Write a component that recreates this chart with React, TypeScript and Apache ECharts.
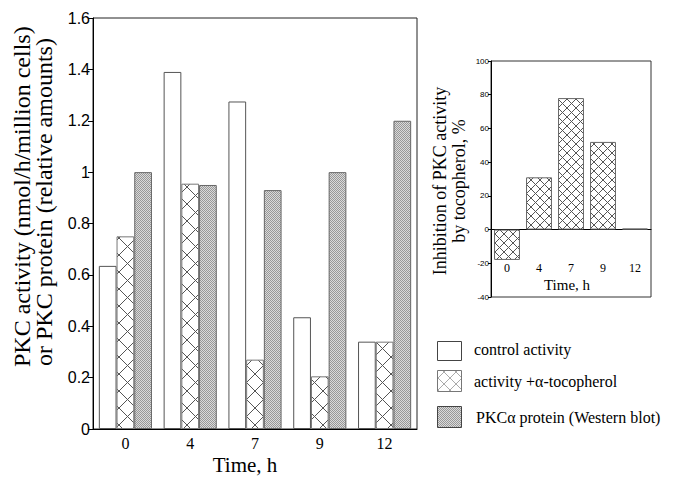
import React, { useEffect, useRef } from 'react';
import * as echarts from 'echarts';

// ---- data ----
const categories = ['0', '4', '7', '9', '12'];
const controlActivity = [0.635, 1.39, 1.275, 0.435, 0.34];
const tocopherolActivity = [0.75, 0.955, 0.27, 0.205, 0.34];
const pkcProtein = [1.0, 0.95, 0.93, 1.0, 1.2];
const inhibition = [-18, 31, 78, 52, 0.6];

const seriesNames = ['control activity', 'activity +\u03b1-tocopherol', 'PKC\u03b1 protein (Western blot)'];
const mainAxisTitle = ['PKC activity (nmol/h/million cells)', 'or PKC protein (relative amounts)'];
const insetAxisTitle = 'Inhibition of PKC activity\nby tocopherol, %';
const timeTitle = 'Time, h';

const SERIF = "'Liberation Serif', 'Times New Roman', serif";
const NARROW = "'Liberation Sans Narrow', 'Arial Narrow', 'Liberation Sans', Arial, sans-serif";
const SANS = "'Liberation Sans', Arial, sans-serif";

function hatchPattern(size: number, color: string) {
  const c = document.createElement('canvas');
  c.width = size;
  c.height = size;
  const ctx = c.getContext('2d')!;
  ctx.fillStyle = '#ffffff';
  ctx.fillRect(0, 0, size, size);
  ctx.strokeStyle = color;
  ctx.lineWidth = 1;
  ctx.beginPath();
  ctx.moveTo(-1, -1);
  ctx.lineTo(size + 1, size + 1);
  ctx.moveTo(size + 1, -1);
  ctx.lineTo(-1, size + 1);
  ctx.stroke();
  return { image: c.toDataURL(), repeat: 'repeat', imageWidth: size, imageHeight: size } as any;
}

function stipplePattern(dark: string, light: string) {
  const n = 8;
  const c = document.createElement('canvas');
  c.width = n;
  c.height = n;
  const ctx = c.getContext('2d')!;
  ctx.fillStyle = light;
  ctx.fillRect(0, 0, n, n);
  ctx.fillStyle = dark;
  for (let i = 0; i < n; i++) {
    for (let j = 0; j < n; j++) {
      if ((i + j) % 2 === 0) ctx.fillRect(i, j, 1, 1);
    }
  }
  return { image: c.toDataURL(), repeat: 'repeat', imageWidth: n, imageHeight: n } as any;
}

export default function App() {
  const ref = useRef<HTMLDivElement>(null);

  useEffect(() => {
    if (!ref.current) return;
    const chart = echarts.init(ref.current, undefined, { renderer: 'svg' });

    const hatchMain = hatchPattern(17, '#555555');
    const hatchInset = hatchPattern(9, '#555555');
    const hatchLegend = hatchPattern(12, '#aaaaaa');
    const stipple = stipplePattern('#989898', '#dadada');

    const option: any = {
      animation: false,
      backgroundColor: '#ffffff',
      grid: [
        { left: 93, top: 18, width: 324, height: 411, show: true, borderColor: '#222', borderWidth: 1, backgroundColor: 'transparent' },
        { left: 491, top: 61, width: 160, height: 236, show: true, borderColor: '#333', borderWidth: 1, backgroundColor: 'transparent' },
      ],
      xAxis: [
        {
          type: 'category',
          gridIndex: 0,
          data: categories,
          axisLine: { lineStyle: { color: '#000', width: 1 } },
          axisTick: { show: false },
          axisLabel: { color: '#000', fontFamily: SERIF, fontSize: 16, margin: 6 },
        },
        {
          type: 'category',
          gridIndex: 1,
          data: categories,
          axisLine: { onZero: true, lineStyle: { color: '#000', width: 1 } },
          axisTick: { show: false },
          axisLabel: { color: '#000', fontFamily: SERIF, fontSize: 12, margin: -35 },
        },
      ],
      yAxis: [
        {
          type: 'value',
          gridIndex: 0,
          min: 0,
          max: 1.6,
          interval: 0.2,
          splitLine: { show: false },
          axisLine: { show: true, lineStyle: { color: '#000', width: 1 } },
          axisTick: { show: true, length: 5, lineStyle: { color: '#000' } },
          axisLabel: { color: '#000', fontFamily: NARROW, fontSize: 16, margin: 3 },
        },
        {
          type: 'value',
          gridIndex: 1,
          min: -40,
          max: 100,
          interval: 20,
          splitLine: { show: false },
          axisLine: { show: true, onZero: false, lineStyle: { color: '#000', width: 1 } },
          axisTick: { show: true, length: 3, lineStyle: { color: '#000' } },
          axisLabel: { color: '#000', fontFamily: SANS, fontSize: 8, margin: 2 },
        },
      ],
      series: [
        {
          name: seriesNames[0],
          type: 'bar',
          xAxisIndex: 0,
          yAxisIndex: 0,
          data: controlActivity,
          barGap: '0%',
          barCategoryGap: '18%',
          itemStyle: { color: '#ffffff', borderColor: '#555', borderWidth: 1 },
        },
        {
          name: seriesNames[1],
          type: 'bar',
          xAxisIndex: 0,
          yAxisIndex: 0,
          data: tocopherolActivity,
          barGap: '0%',
          barCategoryGap: '18%',
          itemStyle: { color: hatchMain, borderColor: '#777', borderWidth: 1 },
        },
        {
          name: seriesNames[2],
          type: 'bar',
          xAxisIndex: 0,
          yAxisIndex: 0,
          data: pkcProtein,
          barGap: '0%',
          barCategoryGap: '18%',
          itemStyle: { color: stipple, borderColor: '#666', borderWidth: 1 },
        },
        {
          name: 'inhibition',
          type: 'bar',
          xAxisIndex: 1,
          yAxisIndex: 1,
          data: inhibition,
          barCategoryGap: '19%',
          itemStyle: { color: hatchInset, borderColor: '#666', borderWidth: 1 },
        },
      ],
      graphic: [
        {
          type: 'text',
          x: 22,
          y: 367,
          rotation: Math.PI / 2,
          style: { text: mainAxisTitle[0], font: `24px ${SERIF}`, fill: '#000', align: 'left', verticalAlign: 'middle' },
        },
        {
          type: 'text',
          x: 44,
          y: 366,
          rotation: Math.PI / 2,
          style: { text: mainAxisTitle[1], font: `24px ${SERIF}`, fill: '#000', align: 'left', verticalAlign: 'middle' },
        },
        {
          type: 'text',
          x: 245,
          y: 465,
          style: { text: timeTitle, font: `21px ${SERIF}`, fill: '#000', align: 'center', verticalAlign: 'middle' },
        },
        {
          type: 'text',
          x: 449,
          y: 181,
          rotation: Math.PI / 2,
          style: { text: insetAxisTitle, font: `18px ${SERIF}`, lineHeight: 19, fill: '#000', align: 'center', verticalAlign: 'middle' },
        },
        {
          type: 'text',
          x: 567,
          y: 285,
          style: { text: timeTitle, font: `15px ${SERIF}`, fill: '#000', align: 'center', verticalAlign: 'middle' },
        },
        // legend
        { type: 'rect', shape: { x: 437.5, y: 341.5, width: 24, height: 19 }, style: { fill: '#fff', stroke: '#444', lineWidth: 1 } },
        { type: 'rect', shape: { x: 437.5, y: 370.5, width: 24, height: 21 }, style: { fill: hatchLegend, stroke: '#777', lineWidth: 1 } },
        { type: 'rect', shape: { x: 437.5, y: 406.5, width: 24, height: 21 }, style: { fill: stipple, stroke: '#444', lineWidth: 1 } },
        { type: 'text', x: 474, y: 349, style: { text: seriesNames[0], font: `16px ${SERIF}`, fill: '#000', align: 'left', verticalAlign: 'middle' } },
        { type: 'text', x: 474, y: 381, style: { text: seriesNames[1], font: `16px ${SERIF}`, fill: '#000', align: 'left', verticalAlign: 'middle' } },
        { type: 'text', x: 476, y: 417, style: { text: seriesNames[2], font: `16px ${SERIF}`, fill: '#000', align: 'left', verticalAlign: 'middle' } },
      ],
    };

    chart.setOption(option);
    return () => {
      chart.dispose();
    };
  }, []);

  return <div ref={ref} style={{ position: 'fixed', left: 0, top: 0, width: 683, height: 481, background: '#fff' }} />;
}
